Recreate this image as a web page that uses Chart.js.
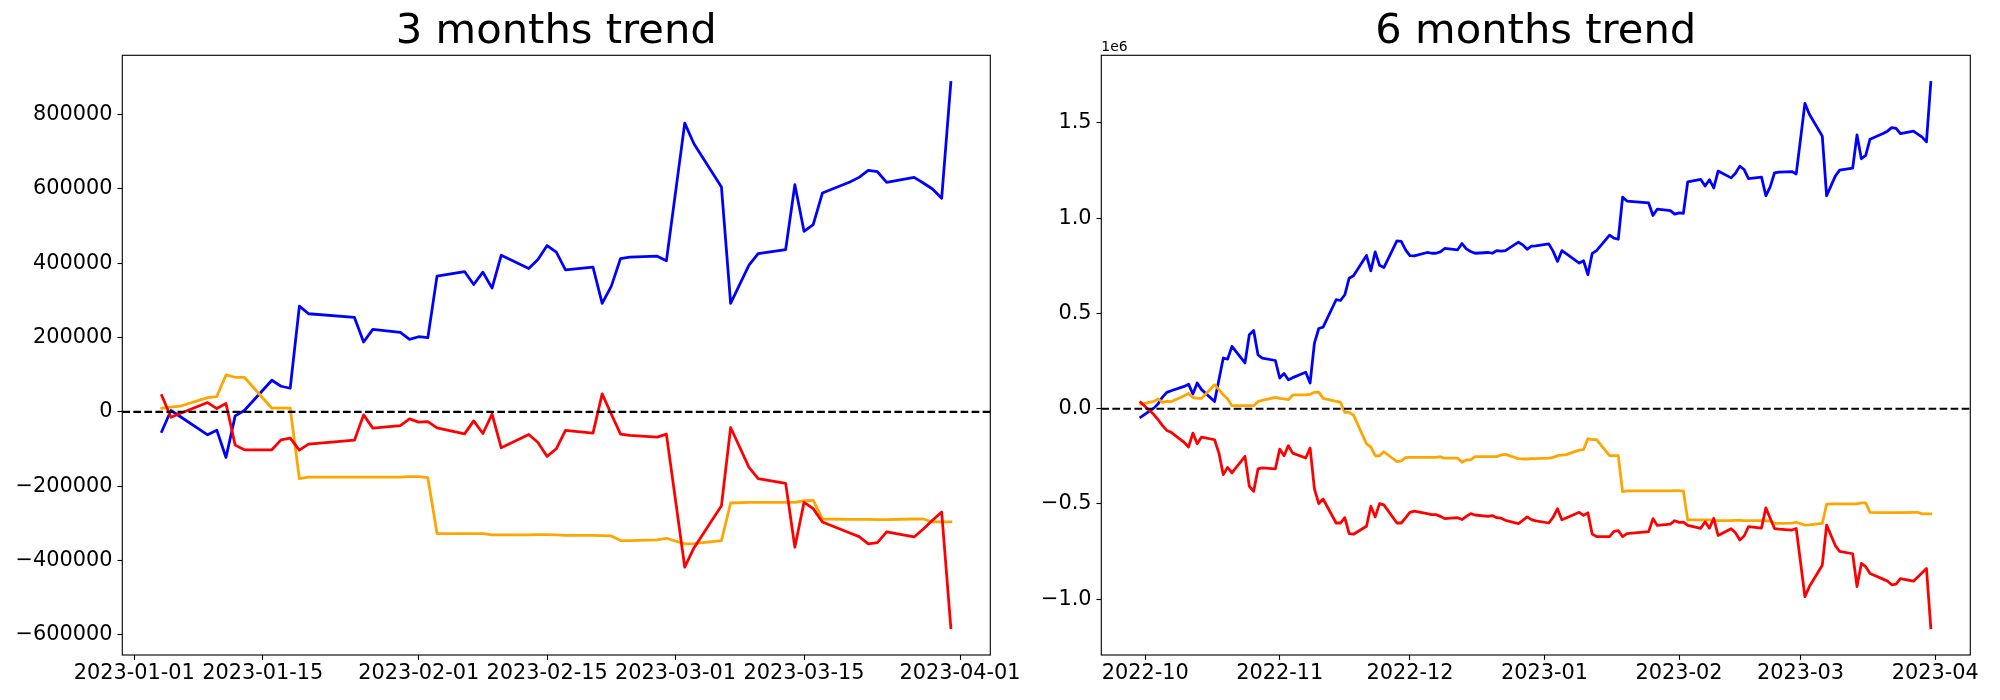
<!DOCTYPE html>
<html><head><meta charset="utf-8">
<script src="https://cdn.jsdelivr.net/npm/chart.js@4.4.1/dist/chart.umd.min.js"></script>
<style>
html,body{margin:0;padding:0;background:#fff;}
#wrap{position:relative;width:2000px;height:700px;overflow:hidden;background:#fff;}
#wrap canvas{position:absolute;left:0;top:0;}
</style></head><body>
<div id="wrap"><canvas id="c3" width="2000" height="700"></canvas><canvas id="c6" width="2000" height="700"></canvas></div>
<script>
// ---------- 3 months data ----------
const dates3m = ['2023-01-04','2023-01-05','2023-01-06','2023-01-09','2023-01-10','2023-01-11','2023-01-12','2023-01-13','2023-01-16','2023-01-17','2023-01-18','2023-01-19','2023-01-20','2023-01-25','2023-01-26','2023-01-27','2023-01-30','2023-01-31',
 '2023-02-01','2023-02-02','2023-02-03','2023-02-06','2023-02-07','2023-02-08','2023-02-09','2023-02-10','2023-02-13','2023-02-14','2023-02-15','2023-02-16','2023-02-17','2023-02-20','2023-02-21','2023-02-22','2023-02-23','2023-02-24','2023-02-27','2023-02-28',
 '2023-03-02','2023-03-03','2023-03-06','2023-03-07','2023-03-09','2023-03-10','2023-03-13','2023-03-14','2023-03-15','2023-03-16','2023-03-17','2023-03-20','2023-03-21','2023-03-22','2023-03-23','2023-03-24','2023-03-27','2023-03-28','2023-03-29','2023-03-30','2023-03-31'];
const blue3m = [-52800,3600,-12500,-61700,-49200,-122600,-10700,3600,85000,68900,63500,284600,264000,254100,187900,221900,213900,195100,
 202200,199600,365100,377600,342700,375800,332900,421500,385700,409800,447400,429500,382100,389300,291700,338300,412500,416100,418800,406300,
 776700,721300,604900,291700,394600,426000,436700,611200,485900,503800,588800,618400,630900,649700,646100,617500,630900,615700,599600,574500,886000];
const red3m = [43800,-14300,-4500,25100,8900,22400,-89500,-102000,-102000,-75200,-70700,-102900,-86800,-76100,-8100,-43800,-36700,-18800,
 -27700,-26000,-43000,-59100,-24200,-58200,-6300,-96600,-60900,-82300,-119900,-99300,-50100,-57300,48300,-6300,-60000,-63500,-68000,-60000,
 -417900,-366000,-252400,-42100,-149400,-179900,-192400,-364200,-243400,-260400,-296200,-325700,-335600,-355300,-351700,-323000,-336500,-315000,-291700,-269400,-580800];
const orange3m = [9800,12500,15200,38500,41200,99300,93100,93100,9800,9800,9800,-179900,-175400,-175400,-175400,-175400,-175400,-174500,
 -174500,-177200,-327500,-327500,-327500,-327500,-331100,-331100,-331100,-330200,-330200,-331100,-332000,-332000,-332900,-333800,-346300,-346300,-344500,-340100,
 -355300,-354400,-346300,-245200,-243400,-243400,-243400,-243400,-238900,-238000,-288200,-289000,-289000,-289000,-289900,-289900,-288200,-288200,-296200,-296200,-296200];
const xTickDates3m = ['2023-01-01','2023-01-15','2023-02-01','2023-02-15','2023-03-01','2023-03-15','2023-04-01'];
const xLabels3m = ['2023-01-01','2023-01-15','2023-02-01','2023-02-15','2023-03-01','2023-03-15','2023-04-01'];
const yTicks3m = [-600000,-400000,-200000,0,200000,400000,600000,800000];
const yLabels3m = ['\u2212600000','\u2212400000','\u2212200000','0','200000','400000','600000','800000'];

// ---------- 6 months data ----------
const dates6m = ['2022-09-30',
 '2022-10-03','2022-10-04','2022-10-05','2022-10-06','2022-10-07','2022-10-10','2022-10-11','2022-10-12','2022-10-13','2022-10-14','2022-10-17','2022-10-18','2022-10-19','2022-10-20','2022-10-21','2022-10-24','2022-10-25','2022-10-26','2022-10-27','2022-10-28','2022-10-31',
 '2022-11-01','2022-11-02','2022-11-03','2022-11-04','2022-11-07','2022-11-08','2022-11-09','2022-11-10','2022-11-11','2022-11-14','2022-11-15','2022-11-16','2022-11-17','2022-11-18','2022-11-21','2022-11-22','2022-11-23','2022-11-24','2022-11-25','2022-11-28','2022-11-29','2022-11-30',
 '2022-12-01','2022-12-02','2022-12-05','2022-12-06','2022-12-07','2022-12-08','2022-12-09','2022-12-12','2022-12-13','2022-12-14','2022-12-15','2022-12-16','2022-12-19','2022-12-20','2022-12-21','2022-12-22','2022-12-23','2022-12-26','2022-12-27','2022-12-28','2022-12-29','2022-12-30',
 '2023-01-02','2023-01-03',
 '2023-01-04','2023-01-05','2023-01-06','2023-01-09','2023-01-10','2023-01-11','2023-01-12','2023-01-13','2023-01-16','2023-01-17','2023-01-18','2023-01-19','2023-01-20','2023-01-25','2023-01-26','2023-01-27','2023-01-30','2023-01-31',
 '2023-02-01','2023-02-02','2023-02-03','2023-02-06','2023-02-07','2023-02-08','2023-02-09','2023-02-10','2023-02-13','2023-02-14','2023-02-15','2023-02-16','2023-02-17','2023-02-20','2023-02-21','2023-02-22','2023-02-23','2023-02-24','2023-02-27','2023-02-28',
 '2023-03-02','2023-03-03','2023-03-06','2023-03-07','2023-03-09','2023-03-10','2023-03-13','2023-03-14','2023-03-15','2023-03-16','2023-03-17','2023-03-20','2023-03-21','2023-03-22','2023-03-23','2023-03-24','2023-03-27','2023-03-28','2023-03-29','2023-03-30','2023-03-31'];
const blue6m = [-44000,
 3000,26000,61000,86000,94000,117000,129000,77000,135000,100000,38000,152000,266000,260000,327000,240000,388000,411000,283000,266000,253000,
 161000,185000,152000,163000,191000,135000,344000,421000,428000,572000,568000,598000,685000,698000,804000,724000,823000,753000,741000,881000,878000,834000,
 804000,802000,820000,816000,816000,823000,841000,834000,867000,839000,825000,816000,820000,816000,830000,827000,830000,874000,860000,837000,853000,855000,
 865000,826000,
 773200,829600,813500,764300,776800,703400,815300,829600,911000,894900,889500,1110600,1090000,1080100,1013900,1047900,1039900,1021100,
 1028200,1025600,1191100,1203600,1168700,1201800,1158900,1247500,1211700,1235800,1273400,1255500,1208100,1215300,1117700,1164300,1238500,1242100,1244800,1232300,
 1602700,1547300,1430900,1117700,1220600,1252000,1262700,1437200,1311900,1329800,1414800,1444400,1456900,1475700,1472100,1443500,1456900,1441700,1425600,1400500,1712000];
const red6m = [33000,
 -31000,-58000,-89000,-114000,-124000,-177000,-201000,-128000,-184000,-149000,-163000,-233000,-346000,-308000,-337000,-250000,-407000,-434000,-316000,-311000,-316000,
 -212000,-247000,-194000,-233000,-259000,-206000,-421000,-498000,-474000,-600000,-600000,-572000,-656000,-659000,-617000,-512000,-568000,-498000,-505000,-600000,-600000,-573000,
 -544000,-538000,-551000,-556000,-556000,-565000,-577000,-572000,-582000,-565000,-551000,-558000,-565000,-561000,-572000,-575000,-586000,-603000,-586000,-568000,-582000,-589000,
 -600000,-569000,
 -525200,-583300,-573500,-543900,-560100,-546600,-658500,-671000,-671000,-644200,-639700,-671900,-655800,-645100,-577100,-612800,-605700,-587800,
 -596700,-595000,-612000,-628100,-593200,-627200,-575300,-665600,-629900,-651300,-688900,-668300,-619100,-626300,-520700,-575300,-629000,-632500,-637000,-629000,
 -986900,-935000,-821400,-611100,-718400,-748900,-761400,-933200,-812400,-829400,-865200,-894700,-904600,-924300,-920700,-892000,-905500,-884000,-860700,-838400,-1149800];
const orange6m = [24000,
 38000,51000,33000,38000,37000,68000,80000,59000,54000,54000,126000,100000,73000,51000,16000,16000,16000,16000,37000,44000,59000,
 54000,51000,47000,72000,72000,75000,86000,87000,54000,38000,33000,-19000,-19000,-33000,-185000,-201000,-247000,-247000,-226000,-278000,-274000,-257000,
 -255000,-255000,-255000,-255000,-255000,-252000,-260000,-259000,-281000,-269000,-269000,-252000,-252000,-252000,-252000,-243000,-240000,-262000,-264000,-264000,-262000,-262000,
 -260000,-256000,
 -246200,-243500,-240800,-217500,-214800,-156700,-162900,-162900,-246200,-246200,-246200,-435900,-431400,-431400,-431400,-431400,-431400,-430500,
 -430500,-433200,-583500,-583500,-583500,-583500,-587100,-587100,-587100,-586200,-586200,-587100,-588000,-588000,-588900,-589800,-602300,-602300,-600500,-596100,
 -611300,-610400,-602300,-501200,-499400,-499400,-499400,-499400,-494900,-494000,-544200,-545000,-545000,-545000,-545900,-545900,-544200,-544200,-552200,-552200,-552200];
const xTickDates6m = ['2022-10-01','2022-11-01','2022-12-01','2023-01-01','2023-02-01','2023-03-01','2023-04-01'];
const xLabels6m = ['2022-10','2022-11','2022-12','2023-01','2023-02','2023-03','2023-04'];
const yTicks6m = [-1000000,-500000,0,500000,1000000,1500000];
const yLabels6m = ['\u22121.0','\u22120.5','0.0','0.5','1.0','1.5'];

// ---------- helpers ----------
const FONT = '"DejaVu Sans"';
Chart.defaults.font.family = FONT;
Chart.defaults.color = '#000';
const DAY = 86400000;
function dayNum(s){ const p = s.split('-').map(Number); return Date.UTC(p[0], p[1]-1, p[2] || 1) / DAY; }
function pts(dates, vals){ return dates.map((d,i) => ({x: dayNum(d), y: vals[i]})); }
function lims(lo, hi){ const m = (hi - lo) * 0.05; return [lo - m, hi + m]; }

const spines = {
  id: 'spines',
  afterDatasetsDraw(chart){
    const a = chart.chartArea, ctx = chart.ctx;
    ctx.save(); ctx.strokeStyle = '#000'; ctx.lineWidth = 1.11;
    ctx.strokeRect(a.left, a.top, a.right - a.left, a.bottom - a.top);
    ctx.restore();
  }
};

function build(canvasId, o){
  const xs = o.dates.map(dayNum);
  const [xmin, xmax] = lims(Math.min(...xs), Math.max(...xs));
  const all = o.series.flatMap(s => s.vals).concat([0]);
  const [ymin, ymax] = lims(Math.min(...all), Math.max(...all));
  const tickX = o.xTickDates.map(dayNum);
  const datasets = o.series.map(s => ({
    data: pts(o.dates, s.vals), borderColor: s.color, backgroundColor: s.color,
    borderWidth: 2.78, pointRadius: 0, tension: 0, fill: false,
    borderJoinStyle: 'round', borderCapStyle: 'square', order: s.order
  }));
  datasets.push({
    data: [{x: xmin, y: 0}, {x: xmax, y: 0}], borderColor: '#000', borderWidth: 2.08,
    borderDash: [7.7, 3.33], pointRadius: 0, tension: 0, fill: false, order: 0
  });
  const plugins = [spines];
  if (o.offsetText) plugins.push({
    id: 'offsetText',
    afterDraw(chart){
      const ctx = chart.ctx; ctx.save();
      ctx.font = '13.9px ' + FONT; ctx.fillStyle = '#000';
      ctx.textAlign = 'left'; ctx.textBaseline = 'alphabetic';
      ctx.fillText(o.offsetText, chart.chartArea.left, 51);
      ctx.restore();
    }
  });
  return new Chart(document.getElementById(canvasId), {
    type: 'line',
    data: { datasets },
    plugins,
    options: {
      responsive: false, animation: false, devicePixelRatio: 1, events: [],
      layout: { padding: { left: o.padLeft, right: o.padRight, top: 0, bottom: 0 } },
      plugins: {
        legend: { display: false }, tooltip: { enabled: false },
        title: { display: true, text: o.title, fullSize: false, color: '#000',
          font: { family: FONT, size: 41.67, weight: 'normal', lineHeight: 1 },
          padding: { top: 11.8, bottom: 1.83 } }
      },
      scales: {
        x: {
          type: 'linear', min: xmin, max: xmax,
          grid: { display: true, drawOnChartArea: false, drawTicks: true, tickLength: 4.86, tickWidth: 1.11, tickColor: '#000' },
          border: { display: false },
          ticks: { autoSkip: false, maxRotation: 0, minRotation: 0, padding: 1.5, color: '#000',
            font: { family: FONT, size: 20.83, lineHeight: 1.2 },
            callback: (v, i) => o.xLabels[i] },
          afterBuildTicks: ax => { ax.ticks = tickX.map(v => ({value: v})); },
          afterFit: ax => { ax.height = 45; ax.paddingLeft = 0; ax.paddingRight = 0; }
        },
        y: {
          type: 'linear', min: ymin, max: ymax,
          grid: { display: true, drawOnChartArea: false, drawTicks: true, tickLength: 4.86, tickWidth: 1.11, tickColor: '#000' },
          border: { display: false },
          ticks: { autoSkip: false, padding: 4.86, color: '#000',
            font: { family: FONT, size: 20.83, lineHeight: 1.2 },
            callback: (v, i) => o.yLabels[i] },
          afterBuildTicks: ax => { ax.ticks = o.yTicks.map(v => ({value: v})); },
          afterFit: ax => { ax.width = o.yWidth; ax.paddingTop = 0; ax.paddingBottom = 0; }
        }
      }
    }
  });
}

build('c3', {
  title: '3 months trend', dates: dates3m, xTickDates: xTickDates3m, xLabels: xLabels3m, yTicks: yTicks3m, yLabels: yLabels3m,
  series: [
    {vals: blue3m, color: '#0000ff', order: 3},
    {vals: orange3m, color: '#ffa500', order: 2},
    {vals: red3m, color: '#ff0000', order: 1}
  ],
  padLeft: 0, yWidth: 122.3, padRight: 2000 - 990.3
});
build('c6', {
  title: '6 months trend', dates: dates6m, xTickDates: xTickDates6m, xLabels: xLabels6m, yTicks: yTicks6m, yLabels: yLabels6m,
  series: [
    {vals: blue6m, color: '#0000ff', order: 3},
    {vals: orange6m, color: '#ffa500', order: 2},
    {vals: red6m, color: '#ff0000', order: 1}
  ],
  padLeft: 1000, yWidth: 101.3, padRight: 2000 - 1970.3, offsetText: '1e6'
});
</script>
</body></html>
